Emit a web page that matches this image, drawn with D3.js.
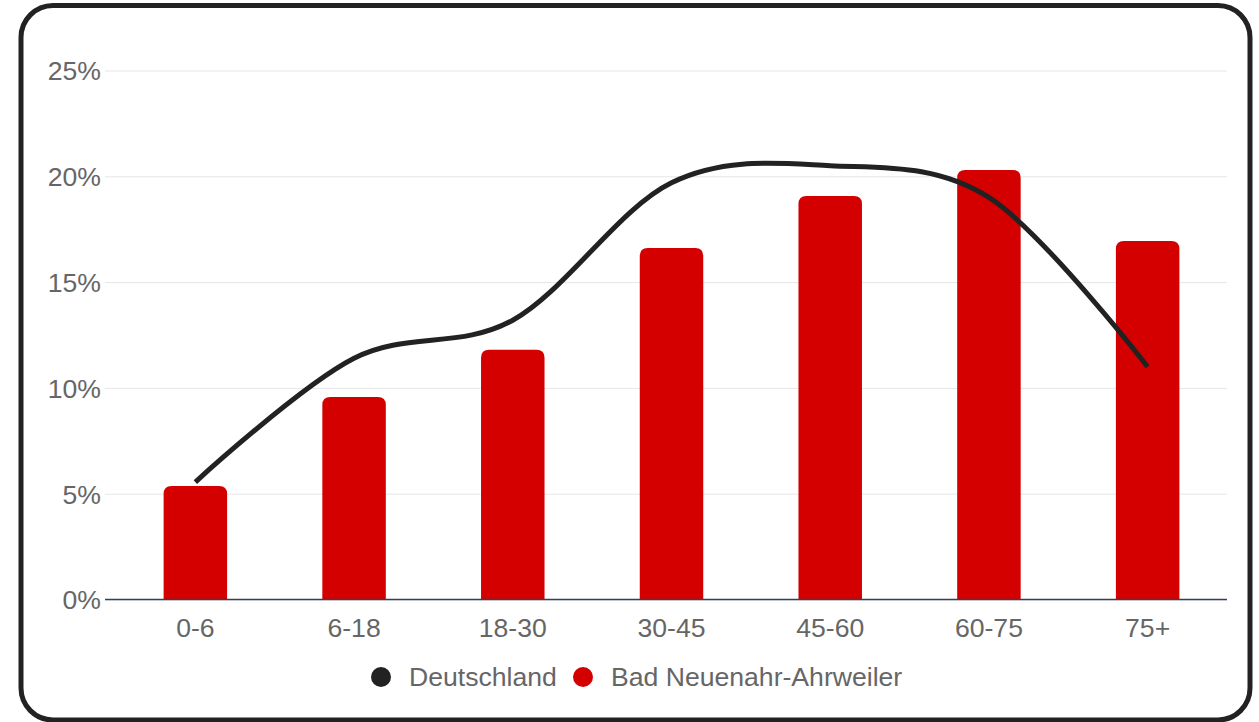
<!DOCTYPE html>
<html>
<head>
<meta charset="utf-8">
<script src="https://cdn.jsdelivr.net/npm/d3@7"></script>
<style>
  html, body { margin: 0; padding: 0; background: #fff; }
  svg { display: block; font-family: "Liberation Sans", Arial, sans-serif; }
</style>
</head>
<body>
<svg id="chart" width="1259" height="722"></svg>
<script>
const categories = ["0-6", "6-18", "18-30", "30-45", "45-60", "60-75", "75+"];
const regionValues = [5.36, 9.57, 11.80, 16.61, 19.07, 20.30, 16.94];
const germanyValues = [5.55, 11.4, 13.2, 19.7, 20.5, 19.0, 11.0];
const yTicks = [0, 5, 10, 15, 20, 25];
const seriesNames = ["Deutschland", "Bad Neuenahr-Ahrweiler"];
const seriesColors = ["#222222", "#d40000"];

const svg = d3.select("#chart");
const W = 1259, H = 722;
const FS = 26.6;

// frame
svg.append("rect")
  .attr("x", 21).attr("y", 5.5)
  .attr("width", 1229).attr("height", 714.5)
  .attr("rx", 32).attr("ry", 32)
  .attr("fill", "#fff").attr("stroke", "#222").attr("stroke-width", 5);

const plot = { left: 116, right: 1227, top: 70.5, bottom: 599.5 };

const x = d3.scaleBand().domain(categories).range([plot.left, plot.right]).paddingInner(0.6).paddingOuter(0.3);
const y = d3.scaleLinear().domain([0, 25]).range([plot.bottom, plot.top]);

// grid
const yAxis = d3.axisLeft(y).tickValues(yTicks).tickFormat(d => d + "%").tickSize(-(plot.right - 105)).tickPadding(4);
const gy = svg.append("g").attr("transform", `translate(105,0)`).call(yAxis);
gy.select(".domain").remove();
gy.selectAll(".tick line").attr("stroke", "#e6e6e6").attr("stroke-width", 1);
gy.selectAll(".tick text").attr("fill", "#666").attr("font-size", FS).attr("x", -4).attr("dy", "0.35em")
  .attr("font-family", "'Liberation Sans', Arial, sans-serif");

// bars with rounded tops
const r = 8;
svg.append("g").selectAll("path").data(categories).join("path")
  .attr("fill", seriesColors[1])
  .attr("d", (c, i) => {
    const x0 = x(c), w = x.bandwidth(), y0 = y(regionValues[i]), yb = y(0);
    return `M${x0},${yb} L${x0},${y0 + r} Q${x0},${y0} ${x0 + r},${y0} L${x0 + w - r},${y0} Q${x0 + w},${y0} ${x0 + w},${y0 + r} L${x0 + w},${yb} Z`;
  });

// baseline axis
const xAxis = d3.axisBottom(x).tickSize(0).tickPadding(19);
const gx = svg.append("g").attr("transform", `translate(0,${plot.bottom})`).call(xAxis);
gx.select(".domain").remove();
gx.selectAll(".tick text").attr("fill", "#666").attr("font-size", FS)
  .attr("font-family", "'Liberation Sans', Arial, sans-serif");
svg.append("line").attr("x1", 105).attr("x2", plot.right).attr("y1", y(0)).attr("y2", y(0))
  .attr("stroke", "#37404f").attr("stroke-width", 1.5);

// line
const line = d3.line()
  .x((d, i) => x(categories[i]) + x.bandwidth() / 2)
  .y(d => y(d))
  .curve(d3.curveCardinal.tension(0));
svg.append("path").datum(germanyValues)
  .attr("d", line).attr("fill", "none")
  .attr("stroke", seriesColors[0]).attr("stroke-width", 5);

// legend
const legend = svg.append("g").attr("transform", "translate(0,677)");
const items = [{ name: seriesNames[0], color: seriesColors[0], cx: 381 }, { name: seriesNames[1], color: seriesColors[1], cx: 583 }];
items.forEach(it => {
  legend.append("circle").attr("cx", it.cx).attr("cy", 0).attr("r", 10).attr("fill", it.color);
  legend.append("text").attr("x", it.cx + 28).attr("y", 0).attr("dy", "0.35em")
    .attr("fill", "#666").attr("font-size", FS).text(it.name);
});
</script>
</body>
</html>
